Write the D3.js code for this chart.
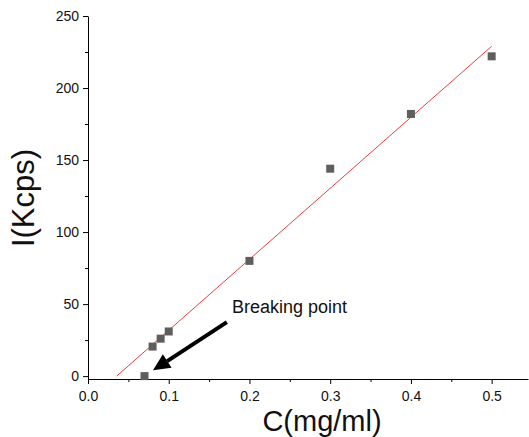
<!DOCTYPE html>
<html lang="en">
<head>
  <meta charset="UTF-8">
  <title>Breaking point</title>
  <script src="https://cdn.jsdelivr.net/npm/d3@7"></script>
  <style>
    body { margin: 0; background: #fff; }
    text { font-family: Arial, 'Liberation Sans', sans-serif; fill: #111; }
    .axis path, .axis line { stroke: #000; }
  </style>
</head>
<body>
<div id="chart"></div>
<script>
    // measured points
    const conc = [0.07, 0.08, 0.09, 0.1, 0.2, 0.3, 0.4, 0.5];
    const intensity = [0, 20.5, 26, 31, 80, 144, 182, 222];

    // linear fit (red line) end points
    const fitX = [0.0355, 0.5];
    const fitY = [0, 229];

    const xTicks = [0.0, 0.1, 0.2, 0.3, 0.4, 0.5];
    const yTicks = [0, 50, 100, 150, 200, 250];

    const W = 529, H = 437;
    const svg = d3.select("#chart").append("svg")
        .attr("width", W)
        .attr("height", H);

    const x = d3.scaleLinear().domain([0, 0.545]).range([88, 528]);
    const y = d3.scaleLinear().domain([-2, 250]).range([379, 16]);

    // x axis, major + minor ticks
    svg.append("g")
        .attr("class", "axis")
        .attr("transform", `translate(0,${y.range()[0]})`)
        .call(d3.axisBottom(x).tickValues(d3.range(0.05, 0.55, 0.1)).tickSize(3).tickFormat(""))
        .call(g => g.select(".domain").remove());
    svg.append("g")
        .attr("class", "axis")
        .attr("transform", `translate(0,${y.range()[0]})`)
        .call(d3.axisBottom(x).tickValues(xTicks).tickSize(5).tickSizeOuter(0).tickPadding(7).tickFormat(d3.format(".1f")))
        .call(g => g.selectAll("text").style("font-size", "14px"));

    // y axis
    svg.append("g")
        .attr("class", "axis")
        .attr("transform", `translate(${x.range()[0]},0)`)
        .call(d3.axisLeft(y).tickValues(d3.range(25, 250, 50)).tickSize(3).tickFormat(""))
        .call(g => g.select(".domain").remove());
    svg.append("g")
        .attr("class", "axis")
        .attr("transform", `translate(${x.range()[0]},0)`)
        .call(d3.axisLeft(y).tickValues(yTicks).tickSize(5).tickSizeOuter(0).tickPadding(4))
        .call(g => g.selectAll("text").style("font-size", "14px"));

    // axis titles
    svg.append("text")
        .attr("x", 322)
        .attr("y", 431)
        .attr("text-anchor", "middle")
        .style("font-size", "29px")
        .text("C(mg/ml)");

    svg.append("text")
        .attr("transform", "rotate(-90)")
        .attr("x", -198)
        .attr("y", 34)
        .attr("text-anchor", "middle")
        .style("font-size", "31px")
        .text("I(Kcps)");

    // fit line
    svg.append("line")
        .attr("x1", x(fitX[0])).attr("y1", y(fitY[0]))
        .attr("x2", x(fitX[1])).attr("y2", y(fitY[1]))
        .attr("stroke", "#f03c3c")
        .attr("stroke-width", 1);

    // square markers
    const sz = 8;
    svg.append("g")
        .selectAll("rect")
        .data(conc)
        .join("rect")
        .attr("x", (d) => x(d) - sz / 2)
        .attr("y", (d, i) => y(intensity[i]) - sz / 2)
        .attr("width", sz)
        .attr("height", sz)
        .attr("fill", "#5e5e5e");

    // annotation arrow
    const tip = [x(0.0805), y(4)], tail = [x(0.172), y(37.5)];
    const ang = Math.atan2(tip[1] - tail[1], tip[0] - tail[0]);
    const headLen = 17, headW = 8;
    const base = [tip[0] - headLen * Math.cos(ang), tip[1] - headLen * Math.sin(ang)];
    svg.append("line")
        .attr("x1", tail[0]).attr("y1", tail[1])
        .attr("x2", base[0]).attr("y2", base[1])
        .attr("stroke", "#000")
        .attr("stroke-width", 4);
    svg.append("path")
        .attr("d", d3.line()([
            tip,
            [base[0] + headW * Math.sin(ang), base[1] - headW * Math.cos(ang)],
            [base[0] - headW * Math.sin(ang), base[1] + headW * Math.cos(ang)]
        ]) + "Z")
        .attr("fill", "#000");

    svg.append("text")
        .attr("x", 232)
        .attr("y", 313)
        .style("font-size", "18px")
        .text("Breaking point");
</script>
</body>
</html>
